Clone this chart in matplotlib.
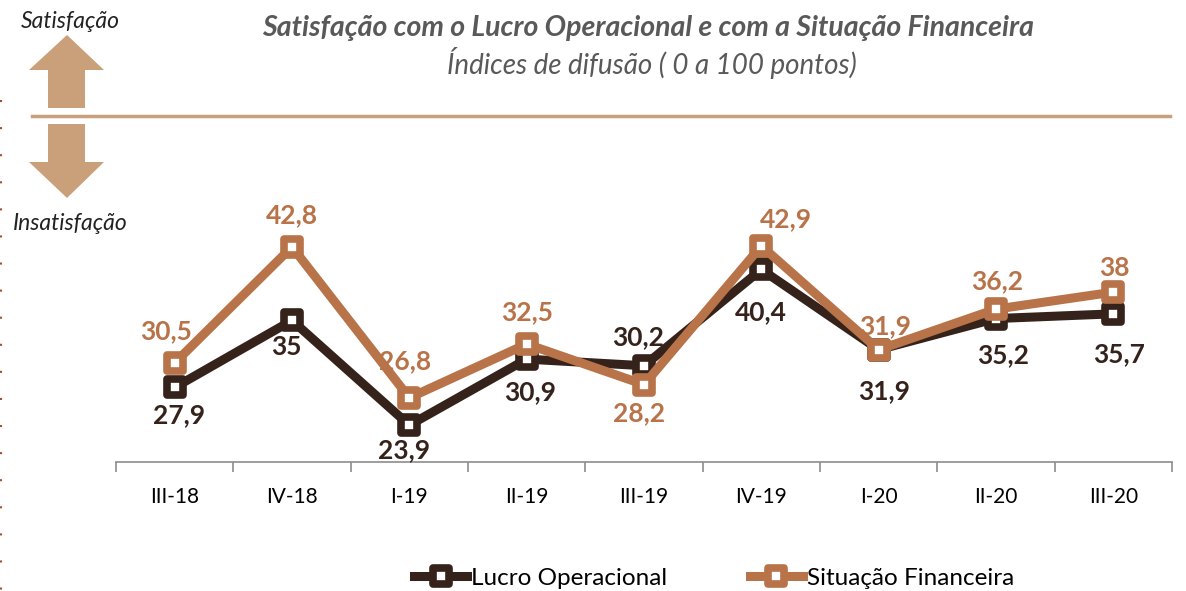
import matplotlib.pyplot as plt
from matplotlib.markers import MarkerStyle
from matplotlib.patches import Polygon

# data
quarters = ['III-18', 'IV-18', 'I-19', 'II-19', 'III-19', 'IV-19', 'I-20', 'II-20', 'III-20']
lucro = [27.9, 35, 23.9, 30.9, 30.2, 40.4, 31.9, 35.2, 35.7]
situacao = [30.5, 42.8, 26.8, 32.5, 28.2, 42.9, 31.9, 36.2, 38]

# label offsets in pixels (dx, dy with dy positive = up)
lucro_off = [(4, -28), (-6, -27), (-5, -25), (3, -33), (-6, 29), (0, -43), (5, -41), (7, -37), (6, -40)]
sit_off = [(-9, 32), (0, 32), (-4, 37), (0, 32), (-5, -29), (25, 27), (6, 24), (1, 28), (1, 24)]

DARK = '#35231b'
ORANGE = '#b87349'
TAN = '#c9a07a'
GRAY = '#595959'

plt.rcParams['font.family'] = ['Lato', 'DejaVu Sans']

W, H = 1186, 591
fig = plt.figure(figsize=(W / 100, H / 100), dpi=100)

# main axes in pixel terms: x 116..1172, bottom y 462
ax = fig.add_axes([116 / W, 1 - 462 / H, (1172 - 116) / W, (462 - 160) / H])
ax.patch.set_alpha(0)
x = list(range(len(quarters)))
mk = MarkerStyle('s', joinstyle='round')
for vals, col, name, offs in [(lucro, DARK, 'Lucro Operacional', lucro_off),
                              (situacao, ORANGE, 'Situação Financeira', sit_off)]:
    ax.plot(x, vals, color=col, lw=6.5, marker=mk, ms=12, mfc='white', mec=col, mew=5.5,
            solid_joinstyle='miter', label=name)
    for xi, v, (dx, dy) in zip(x, vals, offs):
        txt = f'{v:g}'.replace('.', ',')
        ax.annotate(txt, (xi, v), xytext=(dx, dy), textcoords='offset pixels',
                    ha='center', va='center', fontsize=19, fontweight='bold', color=col)

ax.set_xlim(-0.5, len(quarters) - 0.5)
ax.set_ylim(20, 52)
ax.set_yticks([])
for s in ['top', 'right', 'left']:
    ax.spines[s].set_visible(False)
ax.spines['bottom'].set_color('#8c8c8c')
ax.spines['bottom'].set_linewidth(1.2)
ax.set_xticks(x)
ax.set_xticklabels(quarters, fontsize=15)
ax.tick_params(axis='x', length=0, pad=18)
ax.set_xticks([i - 0.5 for i in range(len(quarters) + 1)], minor=True)
ax.tick_params(axis='x', which='minor', length=7, color='#8c8c8c', width=1.2)

leg = fig.legend(loc='center', bbox_to_anchor=(0.602, 1 - 578 / H), ncol=2, frameon=False,
                 fontsize=17.5, handlelength=2.2, columnspacing=3.4, handletextpad=0.15)

# overlay for decorations, pixel coordinates
ov = fig.add_axes([0, 0, 1, 1], zorder=-1)
ov.set_xlim(0, W)
ov.set_ylim(H, 0)
ov.axis('off')
up = [(67, 35), (104, 70), (85, 70), (85, 108), (48, 108), (48, 70), (29, 70)]
down = [(67, 198), (104, 162), (85, 162), (85, 124), (48, 124), (48, 162), (29, 162)]
ov.add_patch(Polygon(up, closed=True, color=TAN, lw=0))
ov.add_patch(Polygon(down, closed=True, color=TAN, lw=0))
ov.plot([32, 1170], [116, 116], color=TAN, lw=2.5)
ov.plot([1, 1], [100, 591], color='#a0522d', lw=1.5, ls=(0, (1, 12)))
ov.text(70, 22, 'Satisfação', ha='center', va='center', fontsize=16.5, style='italic', color='#222222')
ov.text(70, 224, 'Insatisfação', ha='center', va='center', fontsize=16.5, style='italic', color='#222222')
ov.text(648, 28, 'Satisfação com o Lucro Operacional e com a Situação Financeira',
        ha='center', va='center', fontsize=20.5, fontweight='bold', style='italic', color=GRAY)
ov.text(652, 63, 'Índices de difusão ( 0 a 100 pontos)', ha='center', va='center',
        fontsize=20, style='italic', color=GRAY)

fig.savefig('out.png', dpi=100)
